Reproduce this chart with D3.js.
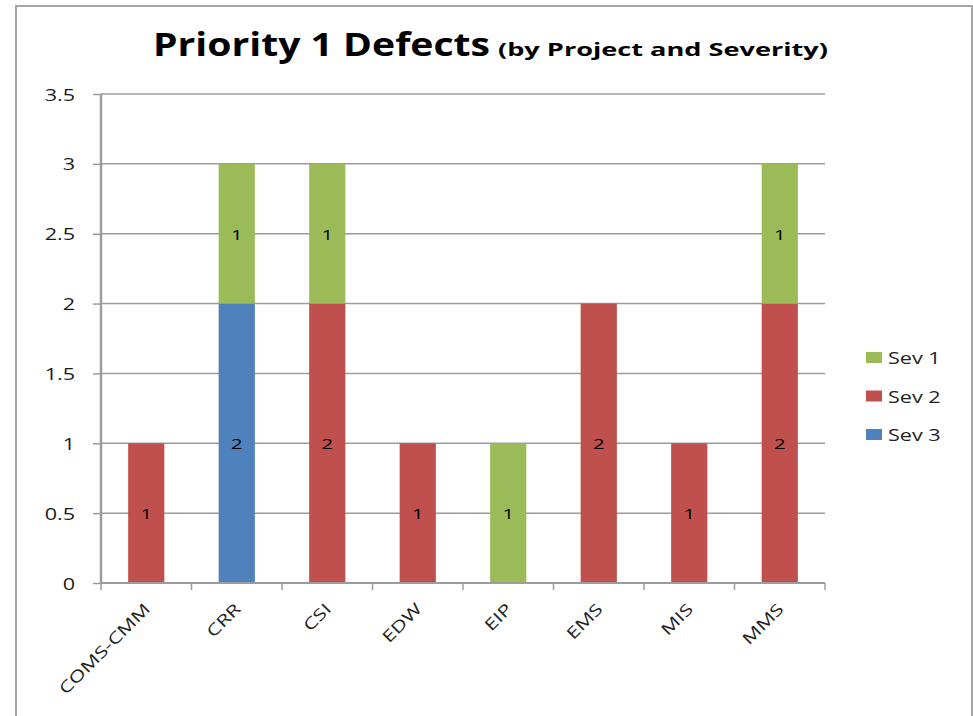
<!DOCTYPE html>
<html>
<head>
<meta charset="utf-8">
<script src="https://cdn.jsdelivr.net/npm/d3@7"></script>
<style>
body { margin:0; background:#fff; }
text { font-family: "Open Sans", "DejaVu Sans", sans-serif; }
</style>
</head>
<body>
<div id="chart"></div>
<script>
// data
var projects = ["COMS-CMM","CRR","CSI","EDW","EIP","EMS","MIS","MMS"];
var sev1 = [0,1,1,0,1,0,0,1];
var sev2 = [1,0,2,1,0,2,1,2];
var sev3 = [0,2,0,0,0,0,0,0];
var series = ["Sev 3","Sev 2","Sev 1"];
var legItems = ["Sev 1","Sev 2","Sev 3"];
var colors = {"Sev 1":"#9bbb59","Sev 2":"#c0504d","Sev 3":"#4f81bd"};
var yTicks = [0,0.5,1,1.5,2,2.5,3,3.5];

var W = 973, H = 716;
var sx = 1.35; // text in the original is drawn wide
var margin = {top:94, left:101, right:148, bottom:133};
var width = W - margin.left - margin.right,
    height = H - margin.top - margin.bottom;

var svg = d3.select("#chart").append("svg")
    .attr("width", W).attr("height", H);

// outer border
svg.append("rect")
    .attr("x",16).attr("y",6).attr("width",956).attr("height",730)
    .attr("fill","none").attr("stroke","#a5a5a5").attr("stroke-width",2);

// title
svg.append("text").attr("x",153).attr("y",56)
    .style("font-weight","bold").style("font-size","32px").attr("fill","#000")
    .attr("textLength",337).attr("lengthAdjust","spacingAndGlyphs")
    .text("Priority 1 Defects");
svg.append("text").attr("x",498).attr("y",56)
    .style("font-weight","bold").style("font-size","18px").attr("fill","#000")
    .attr("textLength",330).attr("lengthAdjust","spacingAndGlyphs")
    .text("(by Project and Severity)");

var g = svg.append("g")
    .attr("transform","translate(" + margin.left + "," + margin.top + ")");

var x = d3.scaleBand().domain(projects).range([0,width])
    .paddingInner(0.6).paddingOuter(0.3);
var y = d3.scaleLinear().domain([0,3.5]).range([height,0]);

// gridlines
g.selectAll(".grid").data(yTicks).enter().append("line")
    .attr("x1",0).attr("x2",width)
    .attr("y1",function(d){return y(d);}).attr("y2",function(d){return y(d);})
    .attr("stroke","#9c9c9c").attr("stroke-width",1.5);

// stacked data
var rows = projects.map(function(p,i){
  return {project:p, "Sev 1":sev1[i], "Sev 2":sev2[i], "Sev 3":sev3[i]};
});
var stack = d3.stack().keys(series)(rows);

var layers = g.selectAll(".layer").data(stack).enter().append("g")
    .attr("fill",function(d){return colors[d.key];});

layers.selectAll("rect").data(function(d){return d;}).enter()
  .filter(function(d){return d[1]-d[0]>0;})
  .append("rect")
    .attr("x",function(d){return x(d.data.project);})
    .attr("width",x.bandwidth())
    .attr("y",function(d){return y(d[1]);})
    .attr("height",function(d){return y(d[0])-y(d[1]);});

layers.selectAll("text").data(function(d){return d;}).enter()
  .filter(function(d){return d[1]-d[0]>0;})
  .append("text")
    .attr("transform",function(d){
      return "translate(" + (x(d.data.project)+x.bandwidth()/2) + "," +
        (y((d[0]+d[1])/2)+6) + ") scale(" + sx + ",1)";
    })
    .attr("text-anchor","middle")
    .attr("fill","#000")
    .style("font-size","15px")
    .text(function(d){return d[1]-d[0];});

// y axis
var yAxis = g.append("g")
    .call(d3.axisLeft(y).tickValues(yTicks).tickSize(8)
      .tickFormat(function(d){return d;}));
yAxis.select(".domain").attr("stroke","#9c9c9c").attr("stroke-width",2.5)
    .attr("d","M0,0V"+height);
yAxis.selectAll(".tick line").attr("stroke","#9c9c9c").attr("stroke-width",1.5);
yAxis.selectAll(".tick text").attr("fill","#1a1a1a").style("font-size","16px")
    .attr("x",null).attr("dy",null).attr("y",6)
    .attr("transform","translate(-26,0) scale(" + sx + ",1)")
    .style("text-anchor","end");

// x axis: ticks at category boundaries
var xa = g.append("g").attr("transform","translate(0," + height + ")");
xa.append("line").attr("x1",0).attr("x2",width)
    .attr("stroke","#9c9c9c").attr("stroke-width",2);
var bounds = projects.map(function(p){return x(p) - x.step()*x.paddingInner()/2;});
bounds.push(width);
bounds[0] = 0;
xa.selectAll(".xt").data(bounds).enter().append("line")
    .attr("x1",function(d){return d;}).attr("x2",function(d){return d;})
    .attr("y1",0).attr("y2",7)
    .attr("stroke","#9c9c9c").attr("stroke-width",1.5);
xa.selectAll(".xl").data(projects).enter().append("text")
    .attr("transform",function(d){
      return "translate(" + (x(d)+x.bandwidth()/2+5) + ",27) rotate(-45) scale(" + sx + ",1)";
    })
    .attr("text-anchor","end")
    .attr("fill","#222")
    .style("font-size","16px")
    .text(function(d){return d;});

// legend
var legend = svg.append("g").attr("transform","translate(866,352)");
legItems.forEach(function(k,i){
  var li = legend.append("g").attr("transform","translate(0," + (i*38.5) + ")");
  li.append("rect").attr("width",16).attr("height",11).attr("fill",colors[k]);
  li.append("text").attr("transform","translate(22,12) scale(" + sx + ",1)")
    .attr("fill","#222").style("font-size","16px").text(k);
});
</script>
</body>
</html>
